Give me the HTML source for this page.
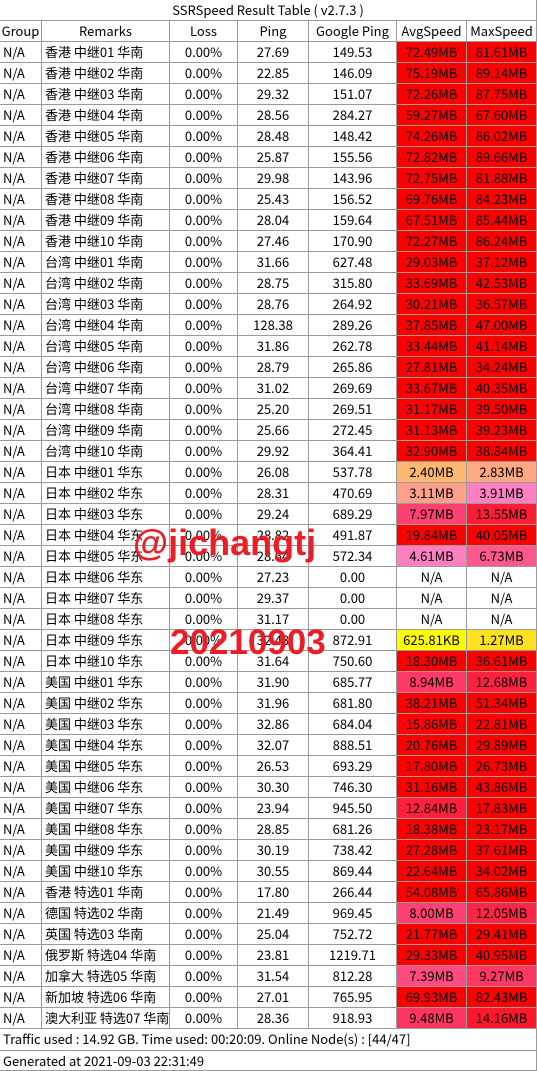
<!DOCTYPE html>
<html><head><meta charset="utf-8">
<style>
body{margin:0;background:#fff;}
#t{position:relative;width:537px;height:1071px;overflow:hidden;font-family:"Noto Sans CJK SC","Liberation Sans",sans-serif;font-size:13px;color:#000;background:#fff;}
.c{position:absolute;box-sizing:border-box;border-right:1px solid #9a9a9a;border-bottom:1px solid #9a9a9a;line-height:20px;white-space:nowrap;overflow:hidden;}
.wm{position:absolute;color:#ee1c25;font-weight:bold;font-family:"Liberation Sans","Noto Sans CJK SC",sans-serif;}
</style></head><body>
<div id="t">
<div class="c" style="left:0;top:0;width:537px;height:21px;text-align:center;line-height:20px;">SSRSpeed Result Table ( v2.7.3 )</div>
</div>
<script>
const groups="N/A";
const remarks=["香港 中继01 华南","香港 中继02 华南","香港 中继03 华南","香港 中继04 华南","香港 中继05 华南","香港 中继06 华南","香港 中继07 华南","香港 中继08 华南","香港 中继09 华南","香港 中继10 华南","台湾 中继01 华南","台湾 中继02 华南","台湾 中继03 华南","台湾 中继04 华南","台湾 中继05 华南","台湾 中继06 华南","台湾 中继07 华南","台湾 中继08 华南","台湾 中继09 华南","台湾 中继10 华南","日本 中继01 华东","日本 中继02 华东","日本 中继03 华东","日本 中继04 华东","日本 中继05 华东","日本 中继06 华东","日本 中继07 华东","日本 中继08 华东","日本 中继09 华东","日本 中继10 华东","美国 中继01 华东","美国 中继02 华东","美国 中继03 华东","美国 中继04 华东","美国 中继05 华东","美国 中继06 华东","美国 中继07 华东","美国 中继08 华东","美国 中继09 华东","美国 中继10 华东","香港 特选01 华南","德国 特选02 华南","英国 特选03 华南","俄罗斯 特选04 华南","加拿大 特选05 华南","新加坡 特选06 华南","澳大利亚 特选07 华南"];
const pings=["27.69","22.85","29.32","28.56","28.48","25.87","29.98","25.43","28.04","27.46","31.66","28.75","28.76","128.38","31.86","28.79","31.02","25.20","25.66","29.92","26.08","28.31","29.24","28.82","28.64","27.23","29.37","31.17","32.43","31.64","31.90","31.96","32.86","32.07","26.53","30.30","23.94","28.85","30.19","30.55","17.80","21.49","25.04","23.81","31.54","27.01","28.36"];
const gpings=["149.53","146.09","151.07","284.27","148.42","155.56","143.96","156.52","159.64","170.90","627.48","315.80","264.92","289.26","262.78","265.86","269.69","269.51","272.45","364.41","537.78","470.69","689.29","491.87","572.34","0.00","0.00","0.00","872.91","750.60","685.77","681.80","684.04","888.51","693.29","746.30","945.50","681.26","738.42","869.44","266.44","969.45","752.72","1219.71","812.28","765.95","918.93"];
const avgs=["72.49MB","75.19MB","72.26MB","59.27MB","74.26MB","72.82MB","72.75MB","69.76MB","67.51MB","72.27MB","29.03MB","33.69MB","30.21MB","37.85MB","33.44MB","27.81MB","33.67MB","31.17MB","31.13MB","32.90MB","2.40MB","3.11MB","7.97MB","19.84MB","4.61MB","N/A","N/A","N/A","625.81KB","18.30MB","8.94MB","38.21MB","15.86MB","20.76MB","17.80MB","31.16MB","12.84MB","18.38MB","27.28MB","22.64MB","54.08MB","8.00MB","21.77MB","29.33MB","7.39MB","69.93MB","9.48MB"];
const maxs=["81.61MB","89.14MB","87.75MB","67.60MB","86.02MB","89.66MB","81.88MB","84.23MB","85.44MB","86.24MB","37.12MB","42.53MB","36.57MB","47.00MB","41.14MB","34.24MB","40.35MB","39.50MB","39.23MB","38.84MB","2.83MB","3.91MB","13.55MB","40.05MB","6.73MB","N/A","N/A","N/A","1.27MB","36.61MB","12.68MB","51.34MB","22.81MB","29.89MB","26.73MB","43.86MB","17.83MB","23.17MB","37.61MB","34.02MB","65.86MB","12.05MB","29.41MB","40.95MB","9.27MB","82.43MB","14.16MB"];
const headers=["Group","Remarks","Loss","Ping","Google Ping","AvgSpeed","MaxSpeed"];
const colX=[0,42,170,238,309,397,467,537];
const stops=[[0.6,[255,255,0]],[1.3,[255,224,32]],[2.4,[255,184,112]],[3.1,[255,160,138]],[3.9,[255,128,192]],[4.6,[255,128,192]],[8,[255,64,112]],[14,[255,26,48]],[16,[255,0,0]]];
function mb(s){if(s==="N/A")return null;const v=parseFloat(s);return s.endsWith("KB")?v/1024:v;}
function col(s){const v=mb(s);if(v===null)return"#fff";if(v<=stops[0][0])return"rgb(255,255,0)";
for(let i=1;i<stops.length;i++){if(v<=stops[i][0]){const a=stops[i-1],b=stops[i],f=(v-a[0])/(b[0]-a[0]);const c=a[1].map((x,k)=>Math.round(x+(b[1][k]-x)*f));return"rgb("+c.join(",")+")";}}return"rgb(255,0,0)";}
const T=document.getElementById("t");
function cell(x0,x1,y,h,txt,align,bg,name){const d=document.createElement("div");d.className="c";
d.style.left=x0+"px";d.style.top=y+"px";d.style.width=(x1-x0)+"px";d.style.height=h+"px";d.style.textAlign=align;
if(align==="left")d.style.paddingLeft="3px";if(bg)d.style.background=bg;d.textContent=txt;


T.appendChild(d);}
const top0=21,rh=21;
headers.forEach((h,i)=>cell(colX[i],colX[i+1],top0,rh,h,"center",null,"header-"+h.toLowerCase().replace(" ","-")));
remarks.forEach((r,j)=>{const y=top0+rh*(j+1);
cell(0,42,y,rh,groups,"left",null,"group-cell");
cell(42,170,y,rh,r,"left",null,"remarks-cell");
cell(170,238,y,rh,"0.00%","center",null,"loss-cell");
cell(238,309,y,rh,pings[j],"center",null,"ping-cell");
cell(309,397,y,rh,gpings[j],"center",null,"google-ping-cell");
cell(397,467,y,rh,avgs[j],"center",col(avgs[j]),"avg-speed-cell");
cell(467,537,y,rh,maxs[j],"center",col(maxs[j]),"max-speed-cell");});
const yf=top0+rh*48;
cell(0,537,yf,22,"Traffic used : 14.92 GB. Time used: 00:20:09. Online Node(s) : [44/47]","left",null,"traffic-summary");
cell(0,537,yf+22,1071-yf-22,"Generated at 2021-09-03 22:31:49","left",null,"generated-time");
</script>
<div class="wm" style="position:absolute;left:133px;top:522px;font-size:36px;">@jichangtj</div>
<div class="wm" style="position:absolute;left:170px;top:623px;font-size:35px;">20210903</div>
</body></html>
